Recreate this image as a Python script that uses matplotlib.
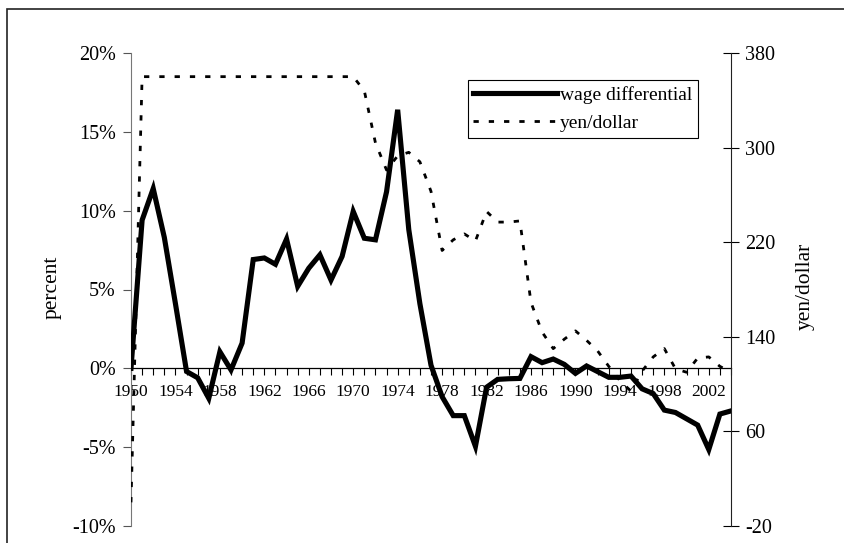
import matplotlib
matplotlib.use("Agg")
import matplotlib.pyplot as plt
from matplotlib.patches import Rectangle

years = list(range(1950, 2005))

# wage differential, percent
wage_diff = [0.0, 9.4, 11.4, 8.3, 4.1, -0.2, -0.6, -1.9, 1.05, -0.1,
             1.6, 6.9, 7.0, 6.6, 8.2, 5.2, 6.35, 7.2, 5.6, 7.1,
             9.95, 8.25, 8.15, 11.2, 16.4, 8.8, 4.1, 0.2, -1.8, -3.0,
             -3.0, -4.95, -1.2, -0.7, -0.66, -0.64, 0.74, 0.36, 0.59, 0.25,
             -0.32, 0.15, -0.21, -0.57, -0.57, -0.49, -1.3, -1.6, -2.65, -2.8,
             -3.2, -3.6, -5.15, -2.9, -2.7]

# yen per dollar
yen_dollar = [0, 360, 360, 360, 360, 360, 360, 360, 360, 360,
              360, 360, 360, 360, 360, 360, 360, 360, 360, 360,
              360, 348, 304, 281, 293, 296, 288, 263, 213, 222,
              227, 221, 246, 237, 237, 238, 169, 144, 130, 138,
              145, 137, 128, 115, 103, 94, 111, 123, 130, 113,
              110, 122, 123, 115, 110]

pct_ticks = [-10, -5, 0, 5, 10, 15, 20]
yen_ticks = [-20, 60, 140, 220, 300, 380]

plt.rcParams['font.family'] = ['Liberation Serif', 'DejaVu Serif']

fig = plt.figure(figsize=(8.45, 5.43), dpi=100)
# outer frame of the original figure, only left and top edges visible
fig.patches.append(Rectangle((7 / 845, -0.2), 1.2, 1.2 - 9 / 543,
                             transform=fig.transFigure, fill=False,
                             edgecolor='#222222', linewidth=1.2))

ax = fig.add_axes([131 / 845, 1 - 526 / 543, 600 / 845, 473 / 543])
ax.set_facecolor('none')
ax.set_axisbelow(True)

ax.plot(years, wage_diff, color='black', linewidth=3.7, solid_joinstyle='miter',
        label='wage differential', zorder=3)

ax.set_xlim(1950, 2004)
ax.set_ylim(-10, 20)
ax.set_yticks(pct_ticks)
ax.set_yticklabels([f"{v}%" for v in pct_ticks])
ax.set_xticks(years)
ax.set_xticklabels([str(y) if (y - 1950) % 4 == 0 else '' for y in years])

for side in ['top', 'right']:
    ax.spines[side].set_visible(False)
ax.spines['left'].set_color('#777777')
ax.spines['bottom'].set_position(('data', 0))
ax.spines['bottom'].set_linewidth(0.9)

ax.set_ylabel('percent', fontsize=15.5)
ax.yaxis.set_label_coords(-0.116, 0.504)

ax2 = ax.twinx()
ax2.plot(years, yen_dollar, color='black', linewidth=2.0, linestyle=(0, (1.9, 3.6)),
         label='yen/dollar')
ax2.set_ylim(-20, 380)
ax2.set_yticks(yen_ticks)
ax2.set_yticklabels([str(v) for v in yen_ticks])
for side in ['top', 'left', 'bottom']:
    ax2.spines[side].set_visible(False)
ax2.spines['right'].set_color('#222222')
ax2.set_ylabel('yen/dollar', fontsize=15.5)
ax2.yaxis.set_label_coords(1.108, 0.507)

ax.tick_params(axis='x', direction='out', length=5, width=0.8, pad=6.5, labelsize=12.5)
ax.tick_params(axis='y', direction='out', length=6, width=0.8, color='#555555',
               pad=5, labelsize=14.5)
ax2.tick_params(axis='y', direction='inout', length=12, width=0.8, pad=4, labelsize=14.5)

h1, l1 = ax.get_legend_handles_labels()
h2, l2 = ax2.get_legend_handles_labels()
leg = ax2.legend(h1 + h2, l1 + l2, loc='upper right', bbox_to_anchor=(0.945, 0.943),
                 fontsize=14, frameon=True, fancybox=False, framealpha=1,
                 edgecolor='black', handlelength=4.3, handletextpad=0.15,
                 borderpad=0.3, labelspacing=0.55, borderaxespad=0)
leg.get_frame().set_linewidth(0.8)

fig.savefig('out.png', dpi=100)
